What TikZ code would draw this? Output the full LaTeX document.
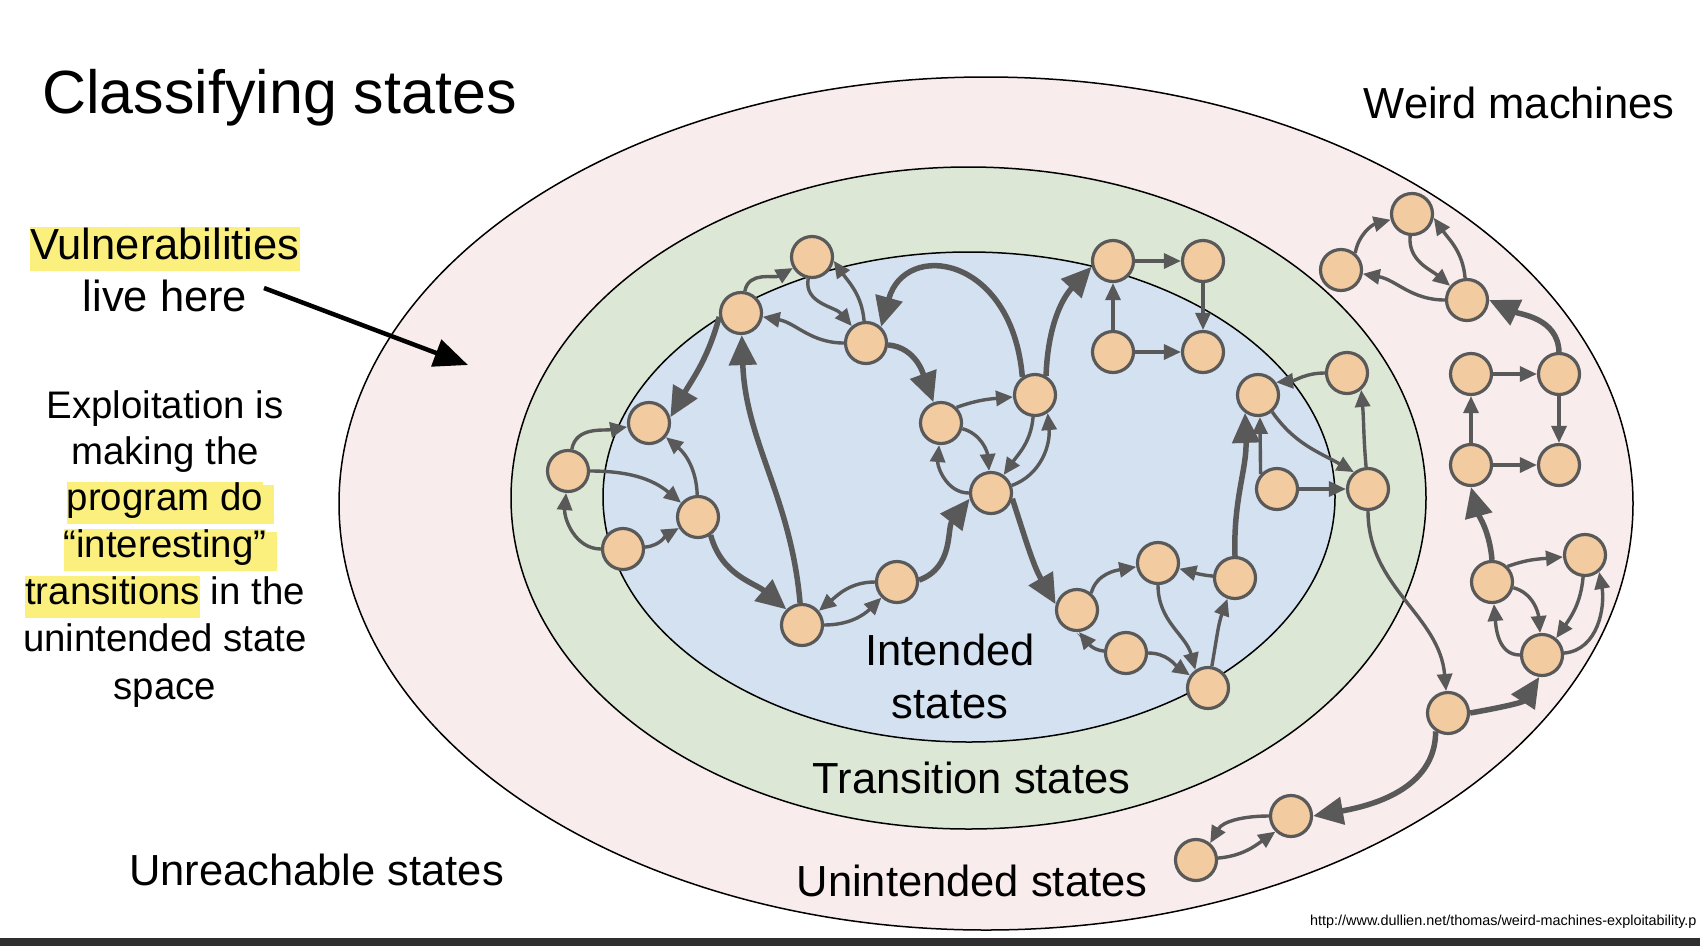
\documentclass[tikz,border=0pt]{standalone}
\usepackage{fontspec}
\setmainfont{Liberation Sans}
\usetikzlibrary{arrows.meta}
\definecolor{pinkfill}{HTML}{F8ECEC}
\definecolor{greenfill}{HTML}{DCE8D5}
\definecolor{bluefill}{HTML}{D3E1F1}
\definecolor{nodefill}{HTML}{F2CCA0}
\definecolor{edgec}{HTML}{595959}
\definecolor{hly}{HTML}{FBF07E}
\definecolor{barc}{HTML}{2F2F2F}
\newcommand\hlb[3]{{\setlength\fboxsep{0pt}\colorbox{hly}{\rule[-#1pt]{0pt}{#2pt}#3}}}
\begin{document}
\begin{tikzpicture}[x=1pt,y=-1pt,
  st/.style={circle, draw=edgec, fill=nodefill, line width=3.2pt, minimum size=41pt, inner sep=0pt},
  ta/.style={draw=edgec, line width=3.4pt, -{Triangle[length=17pt,width=15pt]}},
  tk/.style={draw=edgec, line width=5.5pt, -{Triangle[length=30pt,width=27pt]}},
  lbl/.style={inner sep=0pt, anchor=base, font=\fontsize{43.5}{50}\selectfont},
  sm/.style={inner sep=0pt, anchor=base, font=\fontsize{38.4}{46}\selectfont},
  ring/.style={draw=black, line width=1.5pt}
]
\fill[white] (0,0) rectangle (1700,946);
\useasboundingbox (0,0) rectangle (1700,946);
\fill[barc] (0,938) rectangle (1700,946);

% regions
\draw[ring, fill=pinkfill] (986,503.5) ellipse [x radius=647pt, y radius=426.5pt];
\draw[ring, fill=greenfill] (968.5,498) ellipse [x radius=457.5pt, y radius=331pt];
\draw[ring, fill=bluefill] (969,497) ellipse [x radius=366pt, y radius=245pt];

% texts
\node[inner sep=0pt, anchor=base west, font=\fontsize{61}{70}\selectfont] (title) at (42,113) {Classifying states};
\node[lbl, anchor=base east] (weird) at (1675,118) {Weird machines};
\node[lbl] (tv) at (165,259) {\hlb{12}{44.5}{Vulnerabilities}};
\node[lbl] (tl) at (165,311) {live here};
\node[sm] (e1) at (165,418) {Exploitation is};
\node[sm] (e2) at (165,464.5) {making the};
\node[sm] (e3) at (165,510) {\hlb{13.5}{39}{program do}\rlap{\hlb{13.5}{39}{\ }}};
\node[sm] (e4) at (165,557) {\hlb{13.5}{39}{“interesting”}\rlap{\hlb{13.5}{39}{\ }}};
\node[sm] (e5) at (165,604) {\hlb{13.5}{39}{transitions} in the};
\node[sm] (e6) at (165,651) {unintended state};
\node[sm] (e7) at (165,699) {space};
\node[lbl] (tint1) at (950,665) {Intended};
\node[lbl] (tint2) at (950,718) {states};
\node[lbl] (ttrans) at (971.5,793) {Transition states};
\node[lbl] (tunint) at (972,896) {Unintended states};
\node[lbl, anchor=base west] (tunre) at (129,885) {Unreachable states};
\node[inner sep=0pt, anchor=base west, font=\fontsize{14.4}{17}\selectfont] (url) at (1310,925) {http://www.dullien.net/thomas/weird-machines-exploitability.p};

% vulnerability arrow
\coordinate (va) at (264,288);
\coordinate (vb) at (468,365);
\draw[line width=4.5pt, -{Triangle[length=34pt,width=28pt]}] (va) -- (vb);

% states
\node[st] (N1) at (812,257) {};
\node[st] (N2) at (741,313) {};
\node[st] (N3) at (866,343) {};
\node[st] (N4) at (649,423) {};
\node[st] (N5) at (568,471) {};
\node[st] (N6) at (698,517) {};
\node[st] (N7) at (623,549) {};
\node[st] (N8) at (802,625) {};
\node[st] (N9) at (897,582) {};
\node[st] (N10) at (941,423) {};
\node[st] (N11) at (991,493) {};
\node[st] (N12) at (1035,395) {};
\node[st] (A1) at (1113,261) {};
\node[st] (A2) at (1203,261) {};
\node[st] (A3) at (1113,352) {};
\node[st] (A4) at (1203,352) {};
\node[st] (B1) at (1258,395) {};
\node[st] (B2) at (1347,373) {};
\node[st] (B3) at (1277,489) {};
\node[st] (B4) at (1368,489) {};
\node[st] (C1) at (1077,610) {};
\node[st] (C2) at (1158,563) {};
\node[st] (C3) at (1235,578) {};
\node[st] (C4) at (1126,653) {};
\node[st] (C5) at (1208,688) {};
\node[st] (W1) at (1341,270) {};
\node[st] (W2) at (1412,214) {};
\node[st] (W3) at (1467,300) {};
\node[st] (W4) at (1471,374) {};
\node[st] (W5) at (1559,374) {};
\node[st] (W6) at (1471,465) {};
\node[st] (W7) at (1559,465) {};
\node[st] (W8) at (1492,582) {};
\node[st] (W9) at (1585,555) {};
\node[st] (W10) at (1542,655) {};
\node[st] (X1) at (1448,713) {};
\node[st] (X2) at (1291,816) {};
\node[st] (X3) at (1196,860) {};

% transitions
\draw[ta] (N2) to[out=80,in=210] (N1);
\draw[ta] (N1) to[out=-100,in=130] (N3);
\draw[ta] (N3) to[out=95,in=-55] (N1.-10);
\draw[ta] (N3) to[out=180,in=-10] (N2);
\draw[tk] (N12.125) .. controls (1012,255) and (905,240) .. (N3.47);
\draw[tk] (N3) to[out=-5,in=110] (N10);
\draw[tk] (N2.190) to[out=255,in=60] (N4.15);
\draw[tk] (N8) to[out=95,in=-88] (N2);
\draw[ta] (N5) to[out=80,in=190] (N4);
\draw[ta] (N5) to[out=0,in=140] (N6);
\draw[ta] (N6) to[out=92,in=-40] (N4);
\draw[ta] (N7) to[out=180,in=-95] (N5);
\draw[ta] (N7) to[out=5,in=210] (N6);
\draw[tk] (N6.-55) to[out=-75,in=140] (N8.135);
\draw[ta] (N9) to[out=180,in=40] (N8);
\draw[ta] (N8) to[out=0,in=225] (N9);
\draw[tk] (N9.5) to[out=20,in=232] (N11.195);
\draw[ta] (N10.45) to[out=20,in=185] (N12);
\draw[ta] (N10) to[out=-15,in=95] (N11);
\draw[ta] (N11) to[out=180,in=-95] (N10);
\draw[ta] (N12) to[out=-95,in=55] (N11);
\draw[ta] (N11) to[out=20,in=-85] (N12.-55);
\draw[tk] (N12.60) to[out=88,in=227] (A1.195);
\draw[ta] (A1) -- (A2);
\draw[ta] (A2) -- (A4);
\draw[ta] (A3) -- (A1);
\draw[ta] (A3) -- (A4);
\draw[tk] (N11.-15) to[out=-72,in=120] (C1.165);
\draw[ta] (C1.50) to[out=75,in=190] (C2);
\draw[ta] (C3) to[out=175,in=-15] (C2);
\draw[ta] (C2) to[out=-90,in=105] (C5.125);
\draw[ta] (C4) to[out=175,in=-50] (C1.-85);
\draw[ta] (C4) to[out=0,in=145] (C5);
\draw[ta] (C5) to[out=80,in=-110] (C3);
\draw[tk] (C3.north) to[out=92,in=-88] (B1.234);
\draw[ta] (B3.138) -- (B1.-85);
\draw[ta] (B3) -- (B4);
\draw[ta] (B1.-50) to[out=-55,in=150] (B4.130);
\draw[ta] (B2.west) to[out=180,in=5] (B1.35);
\draw[ta] (B4) to[out=95,in=-85] (B2.-50);
\draw[ta] (B4) to[out=-90,in=95] (X1);
\draw[ta] (W1.50) to[out=80,in=195] (W2);
\draw[ta] (W2) to[out=-95,in=140] (W3);
\draw[ta] (W3) to[out=95,in=-55] (W2.-10);
\draw[ta] (W3) to[out=180,in=-10] (W1);
\draw[tk] (W5.north) to[out=92,in=-25] (W3.east);
\draw[ta] (W4) -- (W5);
\draw[ta] (W5) -- (W7);
\draw[ta] (W6) -- (W4);
\draw[ta] (W6) -- (W7);
\draw[tk] (W8.north) to[out=95,in=-75] (W6.south);
\draw[ta] (W8.45) to[out=20,in=185] (W9);
\draw[ta] (W8) to[out=-15,in=95] (W10);
\draw[ta] (W9) to[out=-95,in=55] (W10.50);
\draw[ta] (W10) to[out=180,in=-85] (W8);
\draw[ta] (W10) to[out=5,in=-80] (W9.-50);
\draw[tk] (X1.east) to[out=10,in=237] (W10.263);
\draw[tk] (X1.236) to[out=-90,in=10] (X2.east);
\draw[ta] (X2) to[out=180,in=60] (X3.50);
\draw[ta] (X3) to[out=5,in=215] (X2.225);
\end{tikzpicture}
\end{document}
